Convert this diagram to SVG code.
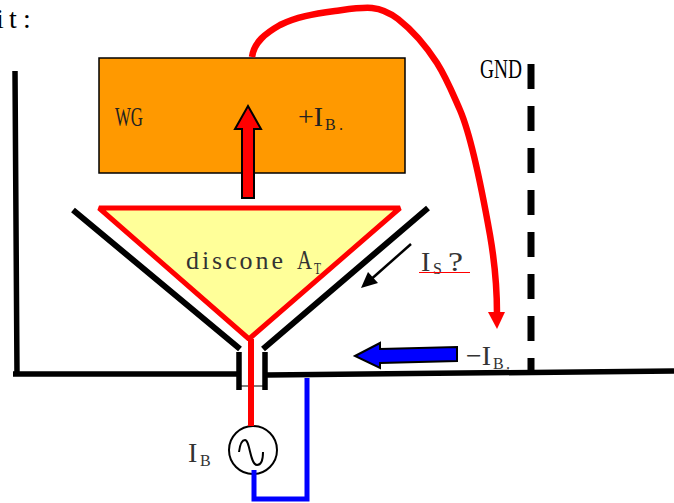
<svg xmlns="http://www.w3.org/2000/svg" width="674" height="503" viewBox="0 0 674 503">
<style>
text{font-family:"Liberation Serif","Noto Sans CJK SC",serif;font-size:28px;fill:#333}
.sub{font-size:16px}
.blk{fill:none;stroke:#000;stroke-width:5.5}
</style>
<rect width="674" height="503" fill="#fff"/>
<g id="title"><text x="-4 9 23" y="28" style="fill:#000">it:</text></g>
<g id="wg">
<rect x="99" y="58" width="306" height="115" fill="#f90" stroke="#000" stroke-width="1.5"/>
<text x="115" y="126" textLength="28" lengthAdjust="spacingAndGlyphs" style="fill:#222">WG</text>
<text x="298" y="126" textLength="25" lengthAdjust="spacingAndGlyphs" style="fill:#222">+I</text>
<text x="325" y="130" class="sub" textLength="18" lengthAdjust="spacing" style="fill:#222">B.</text>
</g>
<g id="discone">
<polygon points="99,208 400,208 249,339" fill="#ff9" stroke="#f00" stroke-width="5" stroke-linejoin="bevel"/>
<text x="186" y="269" textLength="97" lengthAdjust="spacing" style="font-size:26px">discone</text>
<text x="297" y="269" textLength="15" lengthAdjust="spacingAndGlyphs">A</text>
<text x="314" y="274" class="sub" textLength="7" lengthAdjust="spacingAndGlyphs">T</text>
</g>
<g id="ground">
<path class="blk" d="M15,71 L17,374 M13,374 H238 M267,375 L674,371"/>
<path class="blk" style="stroke-width:6" d="M73,210 L240,349 M428,208 L263,349"/>
<path class="blk" d="M239,352 V390 M265,352 V390"/>
<path d="M240,386 H264" stroke="#000" stroke-width="1" fill="none"/>
<path d="M531,64 V370" fill="none" stroke="#000" stroke-width="7" stroke-dasharray="25 17"/>
<text x="480" y="78" textLength="42" lengthAdjust="spacingAndGlyphs" style="fill:#000">GND</text>
</g>
<g id="source">
<circle cx="253" cy="450" r="24" fill="#fff" stroke="#000" stroke-width="2"/>
<path d="M239,452 C240,444 242,440 245,440 C250,440 250,465 257,465 C261,465 263,460 263,452" fill="none" stroke="#000" stroke-width="2"/>
<text x="188" y="462">I</text>
<text x="200" y="466" class="sub">B</text>
</g>
<g id="connectors">
<path d="M251,339 V426" fill="none" stroke="#f00" stroke-width="6"/>
<path d="M307,378 V499 H254 V470" fill="none" stroke="#00f" stroke-width="5"/>
<path d="M252,57 C254,42 266,33 280,25 C296,17 313,14 335,11 C350,9 362,7 372,8 C382,9 390,13 398,19 C412,30 426,46 437,63 C447,79 452,92 460,110 C472,138 482,190 490,235 C494,258 497,285 497,314" fill="none" stroke="#f00" stroke-width="6.5"/>
<polygon points="488,312 505,312 497,329" fill="#f00"/>
<polygon points="242,198 254,198 254,129 261,129 248,106 235,129 242,129" fill="#f00" stroke="#000" stroke-width="2"/>
<polygon points="355,356 380,343 380,349 457,347 457,361 380,363 380,368" fill="#00f" stroke="#000" stroke-width="2"/>
<path d="M411,244 L368,282" fill="none" stroke="#000" stroke-width="2.5"/>
<polygon points="361,288 368,272 378,283" fill="#000"/>
</g>
<g id="labels">
<text x="421" y="271">I</text>
<text x="433" y="274" class="sub">S</text>
<text x="448" y="271" textLength="15" lengthAdjust="spacingAndGlyphs">?</text>
<path d="M419,272.5 H470" stroke="#f00" stroke-width="1.2" fill="none"/>
<text x="466" y="365" textLength="25" lengthAdjust="spacingAndGlyphs">−I</text>
<text x="493" y="369" class="sub" textLength="17" lengthAdjust="spacing">B.</text>
</g>
</svg>
